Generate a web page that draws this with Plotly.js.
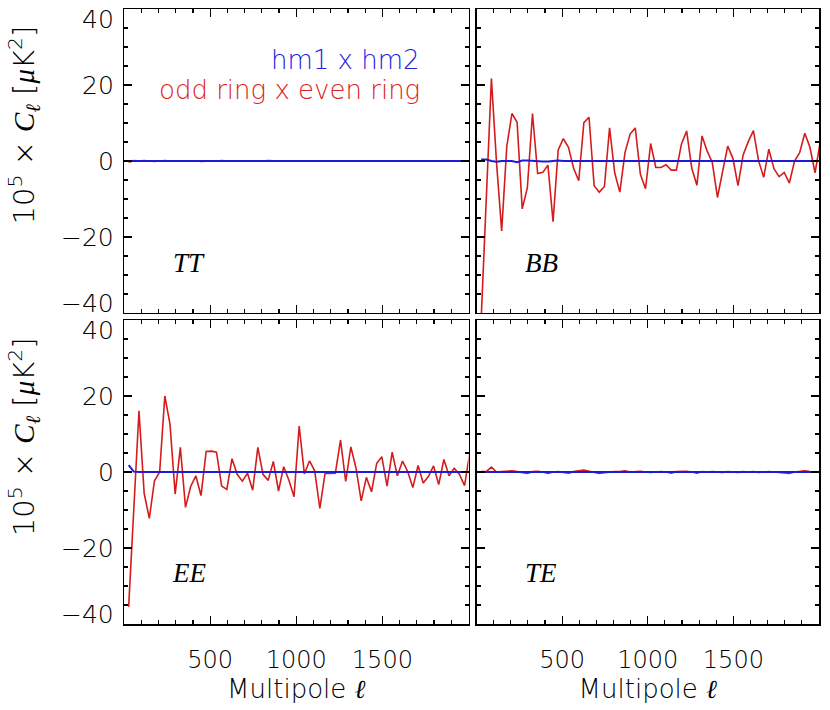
<!DOCTYPE html>
<html>
<head>
<meta charset="utf-8">
<script src="https://cdn.plot.ly/plotly-3.0.1.min.js"></script>
<style>html,body{margin:0;padding:0;background:#fff;}#chart{width:830px;height:710px;}</style>
</head>
<body>
<div id="chart"></div>
<script>
// Multipole bin centres
var ell = [27,57,87,117,147,177,207,237,267,297,
           327,357,387,417,447,477,507,537,567,597,
           627,657,687,717,747,777,807,837,867,897,
           927,957,987,1017,1047,1077,1107,1137,1167,1197,
           1227,1257,1287,1317,1347,1377,1407,1437,1467,1497,
           1527,1557,1587,1617,1647,1677,1707,1737,1767,1797,
           1827,1857,1887,1917,1947,1977,2007];

// odd ring x even ring (red)
var ttOddEven = [-0.3,0.1,0.0,0.1,0.0,-0.1,0.0,0.1,0.0,0.0,
                 0.0,0.1,0.0,0.0,-0.1,0.0,0.0,0.0,0.1,0.0,
                 0.0,0.0,-0.1,0.0,0.0,0.0,0.0,0.1,0.0,0.0,
                 0.0,0.0,0.0,0.0,0.0,0.0,0.0,0.0,0.0,0.0,
                 0.0,0.0,0.0,0.0,0.0,0.0,0.0,0.0,0.0,0.0,
                 0.0,0.0,0.0,0.0,0.0,0.0,0.0,0.0,0.0,0.0,
                 0.0,0.0,0.0,0.0,0.0,0.0,0.0];
var bbOddEven = [-42,-9.5,21.7,-0.5,-18.4,3.9,12.5,10.2,-12.6,-7.0,
                 12.5,-3.3,-3.0,-1.1,-16.0,2.9,5.9,3.6,-1.9,-5.2,
                 10.1,11.5,-6.5,-8.2,-6.7,8.7,-3.1,-8.2,2.2,7.1,
                 8.7,-3.5,-7.3,4.6,-1.7,-1.7,-1.0,-2.4,-2.4,4.5,
                 7.9,-1.9,-6.4,6.6,2.6,-0.4,-9.6,-2.8,3.9,0.7,
                 -6.5,1.6,5.1,8.0,0.1,-4.3,3.1,-2.0,-4.1,-3.0,
                 -5.8,0.0,2.2,7.3,3.6,-3.1,5.0];
var eeOddEven = [-35.5,-9.0,16.1,-5.6,-12.2,-2.3,0.0,20.0,12.6,-5.8,
                 6.5,-9.3,-3.8,-1.0,-6.2,5.4,5.5,5.2,-3.7,-4.6,
                 3.5,-0.6,-2.4,-0.3,-4.8,6.5,-0.6,-2.2,2.8,-5.0,
                 1.4,-2.1,-6.5,12.1,-0.5,2.9,0.3,-9.6,-0.4,-0.4,
                 -0.3,8.4,-2.5,6.6,1.0,-7.6,-1.4,-5.2,2.3,4.0,
                 -3.7,5.2,-1.0,2.9,0.1,-4.1,1.7,-2.9,-1.2,1.6,
                 -3.3,3.3,-1.0,1.0,-0.6,-3.6,5.0];
var teOddEven = [0.1,0.1,1.3,0.0,0.1,0.2,0.3,0.1,-0.1,-0.4,
                 0.1,0.2,0.0,-0.4,0.0,0.1,-0.1,-0.3,0.1,0.3,
                 0.5,0.2,-0.1,-0.4,-0.2,0.0,0.1,0.1,0.3,0.0,
                 0.1,0.2,0.0,-0.1,0.0,0.1,0.0,-0.3,0.1,0.2,
                 0.2,0.0,-0.3,0.1,0.0,0.1,0.0,-0.1,0.1,0.0,
                 -0.1,0.1,0.0,0.1,-0.1,0.0,0.1,0.0,-0.1,-0.2,
                 -0.4,0.0,0.1,0.3,0.1,0.0,0.0];

// hm1 x hm2 (blue)
var ttHm = [0.0,0.0,0.0,0.0,0.0,0.0,0.0,0.0,0.0,0.0,
            0.0,0.0,0.0,0.0,0.0,0.0,0.0,0.0,0.0,0.0,
            0.0,0.0,0.0,0.0,0.0,0.0,0.0,0.0,0.0,0.0,
            0.0,0.0,0.0,0.0,0.0,0.0,0.0,0.0,0.0,0.0,
            0.0,0.0,0.0,0.0,0.0,0.0,0.0,0.0,0.0,0.0,
            0.0,0.0,0.0,0.0,0.0,0.0,0.0,0.0,0.0,0.0,
            0.0,0.0,0.0,0.0,0.0,0.0,0.0];
var bbHm = [0.4,0.4,0.0,-0.2,0.0,0.0,0.0,-0.3,0.1,0.1,
            0.0,0.0,-0.1,-0.1,0.0,0.1,0.0,0.0,0.0,0.0,
            0.0,-0.1,0.0,0.0,0.0,0.0,0.0,0.0,-0.1,0.0,
            0.0,0.0,0.0,0.0,0.0,0.0,0.0,0.0,0.0,0.0,
            0.0,0.0,0.0,0.0,0.0,0.0,0.0,0.0,0.0,0.0,
            0.0,0.0,0.0,0.0,0.0,0.0,0.0,0.0,0.0,0.0,
            0.0,0.0,0.0,0.0,0.0,0.0,0.0];
var eeHm = [1.8,0.1,0.0,0.0,0.0,0.0,0.0,0.0,0.0,0.0,
            0.0,0.0,0.0,0.0,0.0,0.0,0.0,0.0,0.0,0.0,
            0.0,0.0,0.0,0.0,0.0,0.0,0.0,0.0,0.0,0.0,
            0.0,0.0,0.0,0.0,0.0,0.0,0.0,0.0,0.0,0.0,
            0.0,0.0,0.0,0.0,0.0,0.0,0.0,0.0,0.0,0.0,
            0.0,0.0,0.0,0.0,0.0,0.0,0.0,0.0,0.0,0.0,
            0.0,0.0,0.0,0.0,0.0,0.0,0.0];
var teHm = [0.0,0.0,0.0,0.0,0.0,0.0,0.0,0.0,0.0,0.0,
            0.0,0.0,0.0,0.0,0.0,0.0,0.0,0.0,0.0,0.0,
            0.0,0.0,0.0,0.0,0.0,0.0,0.0,0.0,0.0,0.0,
            0.0,0.0,0.0,0.0,0.0,0.0,0.0,0.0,0.0,0.0,
            0.0,0.0,0.0,0.0,0.0,0.0,0.0,0.0,0.0,0.0,
            0.0,0.0,0.0,0.0,0.0,0.0,0.0,0.0,0.0,0.0,
            0.0,0.0,0.0,0.0,0.0,0.0,0.0];

var xTickVals = [500,1000,1500];
var xTickText = ['500','1000','1500'];
var yTickVals = [-40,-20,0,20,40];
var yTickText = ['\u221240','\u221220','0','20','40'];
var panelLabels = ['TT','BB','EE','TE'];

var RED = '#d41c1c', BLUE = '#1c1cd8';
var FONT = 'DejaVu Sans, sans-serif';
var W = 200;
function mathI(s) {
  return '<span style="font-family:\'Liberation Serif\',serif;font-weight:normal;font-style:italic">' + s + '</span>';
}

var reds = [ttOddEven, bbOddEven, eeOddEven, teOddEven];
var blues = [ttHm, bbHm, eeHm, teHm];
var traces = [];
for (var i = 0; i < 4; i++) {
  var xa = i === 0 ? 'x' : 'x' + (i + 1);
  var ya = i === 0 ? 'y' : 'y' + (i + 1);
  traces.push({x: ell, y: reds[i], xaxis: xa, yaxis: ya, mode: 'lines',
               line: {color: RED, width: 1.6}, showlegend: false, hoverinfo: 'skip'});
  traces.push({x: ell, y: blues[i], xaxis: xa, yaxis: ya, mode: 'lines',
               line: {color: BLUE, width: 2}, showlegend: false, hoverinfo: 'skip'});
}

function xAx(domain, labels) {
  return {domain: domain, range: [0, 2000], tickmode: 'array', tickvals: xTickVals, ticktext: xTickText,
          showticklabels: labels, ticks: 'inside', ticklen: 8, tickwidth: 1.2, tickcolor: '#000',
          ticklabelstandoff: 14,
          minor: {dtick: 100, tick0: 0, ticks: 'inside', ticklen: 4, tickwidth: 1.2, tickcolor: '#000'},
          showline: true, linecolor: '#000', linewidth: 1.5, mirror: 'allticks',
          showgrid: false, zeroline: false, fixedrange: true,
          tickfont: {family: FONT, size: 24, color: '#000', weight: W}};
}
function yAx(domain, anchor) {
  return {domain: domain, range: [-40, 40], anchor: anchor, tickmode: 'array', tickvals: yTickVals,
          showticklabels: false, ticks: 'inside', ticklen: 8, tickwidth: 1.2, tickcolor: '#000',
          minor: {dtick: 5, tick0: 0, ticks: 'inside', ticklen: 4, tickwidth: 1.2, tickcolor: '#000'},
          showline: true, linecolor: '#000', linewidth: 1.5, mirror: 'allticks',
          showgrid: false, zeroline: false, fixedrange: true};
}

var L0 = [0, 0.4957], R0 = [0.5072, 1], T0 = [0.5057, 1], B0 = [0, 0.4943];
var xTitle = {text: 'Multipole ' + mathI('\u2113'), font: {family: FONT, size: 26, color: '#000', weight: W}, standoff: 4};
var layout = {
  width: 830, height: 710,
  margin: {l: 124, r: 11, t: 9, b: 86},
  paper_bgcolor: '#fff', plot_bgcolor: '#fff',
  showlegend: false,
  xaxis:  Object.assign(xAx(L0, false), {anchor: 'y'}),
  xaxis2: Object.assign(xAx(R0, false), {anchor: 'y2'}),
  xaxis3: Object.assign(xAx(L0, true), {anchor: 'y3', title: xTitle}),
  xaxis4: Object.assign(xAx(R0, true), {anchor: 'y4', title: xTitle}),
  yaxis:  yAx(T0, 'x'),
  yaxis2: yAx(T0, 'x2'),
  yaxis3: yAx(B0, 'x3'),
  yaxis4: yAx(B0, 'x4'),
  annotations: []
};

// y tick labels on the left panels (edge labels nudged inward as in the original)
['y', 'y3'].forEach(function (yr) {
  for (var j = 0; j < yTickVals.length; j++) {
    var v = yTickVals[j];
    layout.annotations.push({xref: 'paper', yref: yr, x: -0.012, y: v, text: yTickText[j],
      showarrow: false, xanchor: 'right', yanchor: 'middle',
      yshift: v === 40 ? -10 : (v === -40 ? 9 : 0),
      font: {family: FONT, size: 25, color: '#000', weight: W}});
  }
});

var ylab = '10<sup>5</sup> \u00d7 ' + mathI('C') + '<sub>' + mathI('\u2113') + '</sub> [' + mathI('\u03bc') + 'K<sup>2</sup>]';
[0.811, 0.304].forEach(function (yy) {
  layout.annotations.push({xref: 'paper', yref: 'paper', x: -0.145, y: yy, text: ylab, textangle: -90,
    showarrow: false, xanchor: 'center', yanchor: 'middle', font: {family: FONT, size: 29, color: '#000', weight: W}});
});

var labelPos = [[0.0935, 0.587], [0.6, 0.587], [0.0935, 0.083], [0.6, 0.083]];
for (var k = 0; k < 4; k++) {
  layout.annotations.push({xref: 'paper', yref: 'paper', x: labelPos[k][0], y: labelPos[k][1],
    text: '<i>' + panelLabels[k] + '</i>', showarrow: false, xanchor: 'center', yanchor: 'middle',
    font: {family: 'Liberation Serif, serif', size: 27, color: '#000'}});
}
layout.annotations.push({xref: 'paper', yref: 'paper', x: 0.429, y: 0.917, text: 'hm1 x hm2',
  showarrow: false, xanchor: 'right', yanchor: 'middle', font: {family: FONT, size: 26, color: '#2222dd', weight: W}});
layout.annotations.push({xref: 'paper', yref: 'paper', x: 0.429, y: 0.868, text: 'odd ring x even ring',
  showarrow: false, xanchor: 'right', yanchor: 'middle', font: {family: FONT, size: 26, color: '#dd2222', weight: W}});

Plotly.newPlot('chart', traces, layout, {displayModeBar: false, staticPlot: true});
</script>
</body>
</html>
